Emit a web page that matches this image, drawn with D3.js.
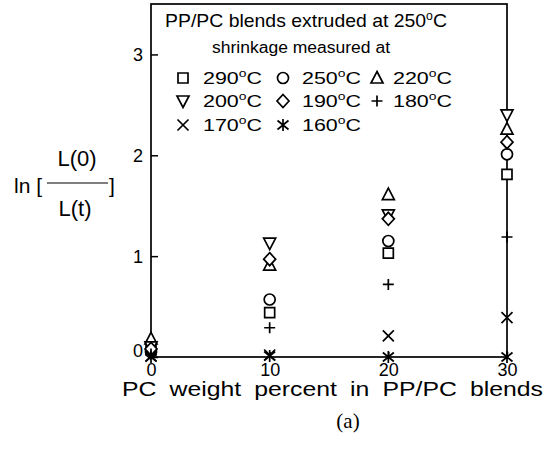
<!DOCTYPE html>
<html>
<head>
<meta charset="utf-8">
<script src="https://cdn.jsdelivr.net/npm/d3@7"></script>
<style>
  html, body { margin: 0; padding: 0; background: #fff; }
  svg { display: block; }
  text { font-family: "Liberation Sans", Arial, sans-serif; fill: #000; }
</style>
</head>
<body>
<svg id="chart" width="548" height="452"></svg>
<script>
// ---- data ----
const pcPercent = [0, 10, 20, 30];
const s290 = [0.07, 0.44, 1.03, 1.81];   // square
const s250 = [0.05, 0.57, 1.15, 2.01];   // circle
const s220 = [0.18, 0.91, 1.61, 2.26];   // triangle up
const s200 = [0.10, 1.13, 1.41, 2.40];   // triangle down
const s190 = [0.08, 0.97, 1.37, 2.13];   // diamond
const s180 = [0.03, 0.29, 0.72, 1.19];   // plus
const s170 = [0.01, 0.02, 0.21, 0.39];   // cross
const s160 = [0.00, 0.01, 0.00, 0.00];   // asterisk
const xTicks = [0, 10, 20, 30];
const yTicks = [0, 1, 2, 3];
const seriesTemps = ["290", "250", "220", "200", "190", "180", "170", "160"];
const seriesShapes = ["square", "circle", "triUp", "triDown", "diamond", "plus", "cross", "asterisk"];
const seriesValues = [s290, s250, s220, s200, s190, s180, s170, s160];

// ---- layout ----
const svg = d3.select("#chart");
const pLeft = 151, pRight = 507, pTop = 4, pBottom = 357;
const x = d3.scaleLinear().domain([0, 30]).range([pLeft, pRight]);
const y = d3.scaleLinear().domain([0, 3.5]).range([pBottom, pTop]);

function symbolPath(shape) {
  const p = d3.path();
  switch (shape) {
    case "square": p.rect(-5, -5, 10, 10); break;
    case "circle": p.moveTo(5.5, 0); p.arc(0, 0, 5.5, 0, 2 * Math.PI); break;
    case "triUp": p.moveTo(0, -6.5); p.lineTo(6, 5); p.lineTo(-6, 5); p.closePath(); break;
    case "triDown": p.moveTo(0, 6.5); p.lineTo(6, -5); p.lineTo(-6, -5); p.closePath(); break;
    case "diamond": p.moveTo(0, -6.5); p.lineTo(6, 0); p.lineTo(0, 6.5); p.lineTo(-6, 0); p.closePath(); break;
    case "plus": p.moveTo(-5.5, 0); p.lineTo(5.5, 0); p.moveTo(0, -5.5); p.lineTo(0, 5.5); break;
    case "cross": p.moveTo(-5.5, -5.5); p.lineTo(5.5, 5.5); p.moveTo(5.5, -5.5); p.lineTo(-5.5, 5.5); break;
    case "asterisk":
      p.moveTo(-5.5, -4.5); p.lineTo(5.5, 4.5); p.moveTo(5.5, -4.5); p.lineTo(-5.5, 4.5);
      p.moveTo(0, -6); p.lineTo(0, 6); break;
  }
  return p.toString();
}

// frame
svg.append("rect")
  .attr("x", pLeft).attr("y", pTop)
  .attr("width", pRight - pLeft).attr("height", pBottom - pTop)
  .attr("fill", "none").attr("stroke", "#000").attr("stroke-width", 1.7);

// y axis ticks (inward)
const yAxis = d3.axisLeft(y).tickValues(yTicks).tickSizeInner(-7).tickSizeOuter(0).tickPadding(8)
  .tickFormat(d3.format("d"));
const gy = svg.append("g").attr("transform", `translate(${pLeft},0)`).call(yAxis);
gy.select(".domain").remove();
gy.selectAll("line").attr("stroke", "#000").attr("stroke-width", 1.5);
gy.selectAll("text").attr("font-size", 18).attr("font-family", "Liberation Sans, Arial, sans-serif")
  .attr("dy", d => d === 0 ? "-0.05em" : "0.35em");

// x axis
const xAxis = d3.axisBottom(x).tickValues(xTicks).tickSizeInner(-5).tickSizeOuter(0).tickPadding(6)
  .tickFormat(d3.format("d"));
const gx = svg.append("g").attr("transform", `translate(0,${pBottom})`).call(xAxis);
gx.select(".domain").remove();
gx.selectAll("line").attr("stroke", "#000").attr("stroke-width", 1.5);
gx.selectAll("text").attr("font-size", 18).attr("font-family", "Liberation Sans, Arial, sans-serif")
  .attr("dy", "0.71em");

// data markers
seriesValues.forEach((vals, i) => {
  const shape = seriesShapes[i];
  svg.append("g").selectAll("path")
    .data(vals.map((v, j) => ({ x: pcPercent[j], y: v })))
    .join("path")
    .attr("d", symbolPath(shape))
    .attr("transform", d => `translate(${x(d.x)},${y(d.y)})`)
    .attr("fill", (shape === "plus" || shape === "cross" || shape === "asterisk") ? "none" : "#fff")
    .attr("stroke", "#000")
    .attr("stroke-width", 1.7);
});

// legend
const t1 = svg.append("text").attr("x", 165).attr("y", 27).attr("font-size", 19)
  .attr("textLength", 282).attr("lengthAdjust", "spacingAndGlyphs");
t1.append("tspan").text("PP/PC blends extruded at 250");
t1.append("tspan").attr("font-size", 12).attr("dy", -7).text("o");
t1.append("tspan").attr("dy", 7).text("C");
svg.append("text").attr("x", 212).attr("y", 53).attr("font-size", 16)
  .attr("textLength", 178).attr("lengthAdjust", "spacingAndGlyphs")
  .text("shrinkage measured at");

const colSym = [183, 283, 377], colTxt = [203, 302, 393], rowY = [78, 101, 125];
seriesTemps.forEach((tmp, i) => {
  const r = Math.floor(i / 3), c = i % 3;
  svg.append("path").attr("d", symbolPath(seriesShapes[i]))
    .attr("transform", `translate(${colSym[c]},${rowY[r]})`)
    .attr("fill", "none").attr("stroke", "#000").attr("stroke-width", 1.7);
  const t = svg.append("text").attr("x", colTxt[c]).attr("y", rowY[r] + 6).attr("font-size", 17)
    .attr("textLength", 59).attr("lengthAdjust", "spacingAndGlyphs");
  t.append("tspan").text(tmp);
  t.append("tspan").attr("font-size", 11).attr("dy", -7).text("o");
  t.append("tspan").attr("dy", 7).text("C");
});

// y axis label: ln [ L(0) / L(t) ]
svg.append("text").attr("x", 14).attr("y", 193).attr("font-size", 21).text("ln [");
svg.append("text").attr("x", 77).attr("y", 166).attr("font-size", 22).attr("text-anchor", "middle").text("L(0)");
svg.append("text").attr("x", 75).attr("y", 216).attr("font-size", 22).attr("text-anchor", "middle").text("L(t)");
svg.append("line").attr("x1", 47).attr("x2", 108).attr("y1", 183).attr("y2", 183)
  .attr("stroke", "#000").attr("stroke-width", 1.2);
svg.append("text").attr("x", 109).attr("y", 193).attr("font-size", 21).text("]");

// x axis title
svg.append("text").attr("x", 122).attr("y", 396).attr("font-size", 20)
  .style("word-spacing", "5px")
  .attr("textLength", 421).attr("lengthAdjust", "spacingAndGlyphs")
  .text("PC weight percent in PP/PC blends");

svg.append("text").attr("x", 348).attr("y", 428).attr("font-size", 21)
  .attr("text-anchor", "middle").style("font-family", "Liberation Serif, Times New Roman, serif")
  .text("(a)");
</script>
</body>
</html>
